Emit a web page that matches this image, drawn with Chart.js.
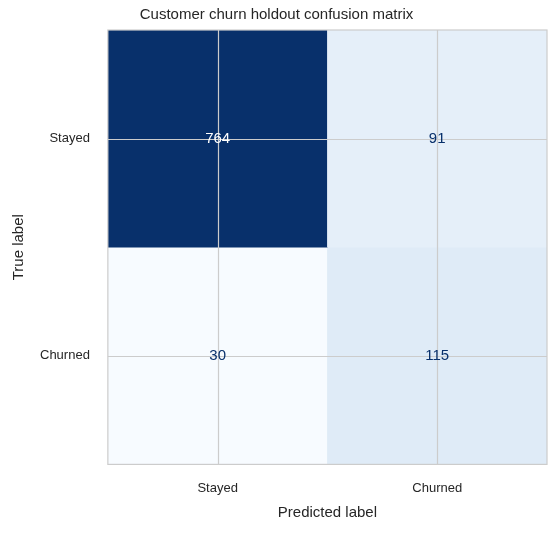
<!DOCTYPE html>
<html>
<head>
<script src="https://cdn.jsdelivr.net/npm/chart.js@4/dist/chart.umd.min.js"></script>
<style>
  body { margin: 0; background: #fff; }
  #wrap { width: 555px; height: 534px; }
</style>
</head>
<body>
<div id="wrap"><canvas id="myChart" width="555" height="534"></canvas></div>
<script>
const predictedLabels = ["Stayed", "Churned"];
const trueLabels = ["Stayed", "Churned"];
const counts = [
    [764, 91],   // true Stayed
    [30, 115]    // true Churned
];
const cellColors = [
    ["#08306b", "#e5eff9"],
    ["#f7fbff", "#dfebf7"]
];
const textColors = [
    ["#ffffff", "#08306b"],
    ["#08306b", "#08306b"]
];

const FONT = "'Liberation Sans', Arial, sans-serif";

// one stacked dataset per true-label row, each cell height 1
const datasets = trueLabels.map((t, r) => ({
    label: t,
    data: predictedLabels.map(() => 1),
    backgroundColor: cellColors[r],
    borderWidth: 0,
    barPercentage: 1,
    categoryPercentage: 1
}));

const cellText = {
    id: "cellText",
    afterDatasetsDraw(chart) {
        const ctx = chart.ctx;
        const area = chart.chartArea;
        ctx.save();
        ctx.strokeStyle = "#cccccc";
        ctx.lineWidth = 1.2;
        // grid lines at cell centres, drawn over the cells
        chart.scales.x.ticks.forEach((t, i) => {
            const x = Math.round(chart.scales.x.getPixelForTick(i)) + 0.5;
            ctx.beginPath(); ctx.moveTo(x, area.top); ctx.lineTo(x, area.bottom); ctx.stroke();
        });
        chart.scales.y.ticks.forEach((t, i) => {
            const y = Math.round(chart.scales.y.getPixelForTick(i)) + 0.5;
            ctx.beginPath(); ctx.moveTo(area.left, y); ctx.lineTo(area.right, y); ctx.stroke();
        });
        ctx.strokeRect(area.left, area.top, area.right - area.left, area.bottom - area.top);
        ctx.font = "15px " + FONT;
        ctx.textAlign = "center";
        ctx.textBaseline = "middle";
        chart.data.datasets.forEach((ds, r) => {
            chart.getDatasetMeta(r).data.forEach((bar, c) => {
                const y = (bar.y + bar.base) / 2;
                ctx.fillStyle = textColors[r][c];
                ctx.fillText(String(counts[r][c]), bar.x, y);
            });
        });
        ctx.restore();
    }
};

new Chart(document.getElementById("myChart"), {
    type: "bar",
    data: { labels: predictedLabels, datasets: datasets },
    plugins: [cellText],
    options: {
        responsive: false,
        animation: false,
        layout: { padding: { left: 6, right: 8, top: 4, bottom: 8 } },
        plugins: {
            legend: { display: false },
            tooltip: { enabled: false },
            title: {
                display: true,
                text: "Customer churn holdout confusion matrix",
                color: "#262626",
                font: { family: FONT, size: 15, weight: "normal" },
                padding: { top: 2, bottom: 6 }
            }
        },
        scales: {
            x: {
                stacked: true,
                grid: { display: false },
                border: { display: false },
                ticks: { color: "#262626", font: { family: FONT, size: 13 }, padding: 8 },
                title: {
                    display: true, text: "Predicted label", color: "#262626",
                    font: { family: FONT, size: 15 }, padding: { top: 0 }
                }
            },
            y: {
                stacked: true,
                reverse: true,
                min: 0,
                max: 2,
                afterBuildTicks(axis) {
                    axis.ticks = [{ value: 0.5 }, { value: 1.5 }];
                },
                grid: { display: false },
                border: { display: false },
                ticks: {
                    color: "#262626", font: { family: FONT, size: 13 }, padding: 10,
                    callback: (v) => trueLabels[Math.floor(v)]
                },
                title: {
                    display: true, text: "True label", color: "#262626",
                    font: { family: FONT, size: 15 }, padding: { bottom: 2 }
                }
            }
        }
    }
});
</script>
</body>
</html>
